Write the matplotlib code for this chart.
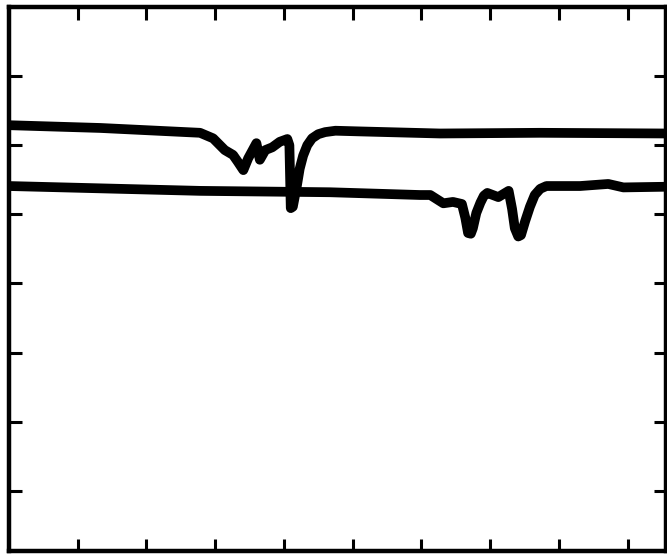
import matplotlib
matplotlib.use("Agg")
import matplotlib.pyplot as plt

# Upper trace (x position, signal level)
upper_x = [0.00, 1.33, 2.78, 2.97, 3.07, 3.14, 3.26, 3.33, 3.41, 3.48, 3.60, 3.65,
           3.73, 3.83, 3.94, 4.05, 4.08, 4.10, 4.13, 4.19, 4.23, 4.28, 4.34, 4.41,
           4.50, 4.60, 4.75, 5.11, 6.27, 7.73, 9.58]
upper_y = [6.29, 6.25, 6.18, 6.10, 6.00, 5.93, 5.86, 5.76, 5.64, 5.81, 6.03, 5.79,
           5.93, 5.97, 6.05, 6.09, 6.00, 5.09, 5.11, 5.42, 5.66, 5.85, 6.00, 6.10,
           6.16, 6.19, 6.21, 6.20, 6.17, 6.18, 6.17]

# Lower trace
lower_x = [0.00, 2.78, 4.67, 5.98, 6.13, 6.32, 6.46, 6.59, 6.64, 6.68, 6.72, 6.75,
           6.80, 6.86, 6.91, 6.96, 7.12, 7.27, 7.32, 7.36, 7.41, 7.45, 7.51, 7.58,
           7.65, 7.73, 7.82, 7.98, 8.31, 8.72, 8.94, 9.58]
lower_y = [5.41, 5.34, 5.32, 5.28, 5.28, 5.16, 5.18, 5.15, 4.95, 4.73, 4.72, 4.80,
           5.02, 5.17, 5.27, 5.31, 5.25, 5.34, 5.08, 4.80, 4.68, 4.70, 4.90, 5.11,
           5.28, 5.37, 5.41, 5.41, 5.41, 5.44, 5.39, 5.40]

x_ticks = [1, 2, 3, 4, 5, 6, 7, 8, 9]
y_ticks = [1, 2, 3, 4, 5, 6, 7]

W, H = 667, 554
fig = plt.figure(figsize=(W / 100, H / 100), dpi=100)
ax = fig.add_axes([9 / W, 3 / H, (666 - 9) / W, (551 - 7) / H])

for xs, ys in ((upper_x, upper_y), (lower_x, lower_y)):
    ax.plot(xs, ys, color="black", lw=7, solid_capstyle="round",
            solid_joinstyle="round")

ax.set_xlim(0, 9.56)
ax.set_ylim(0.13, 8.0)
ax.set_xticks(x_ticks)
ax.set_yticks(y_ticks)
ax.set_xticklabels([])
ax.set_yticklabels([])
ax.tick_params(direction="in", length=9, width=2.2, top=True, right=True,
               bottom=True, left=True, color="black")
for side in ax.spines.values():
    side.set_linewidth(3.2)
    side.set_color("black")

fig.savefig("out.png", dpi=100)
